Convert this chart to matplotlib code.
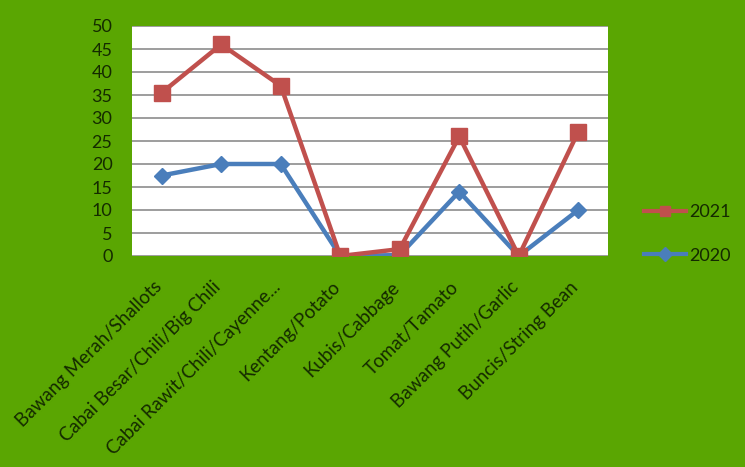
import matplotlib.pyplot as plt
from matplotlib.transforms import ScaledTranslation

categories = ["Bawang Merah/Shallots", "Cabai Besar/Chili/Big Chili", "Cabai Rawit/Chili/Cayenne...",
              "Kentang/Potato", "Kubis/Cabbage", "Tomat/Tamato", "Bawang Putih/Garlic", "Buncis/String Bean"]
y2021 = [35.5, 46, 37, 0, 1.5, 26, 0, 27]
y2020 = [17.5, 20, 20, 0, 0.2, 14, 0, 10]
yticks = [0, 5, 10, 15, 20, 25, 30, 35, 40, 45, 50]

green = "#5aa602"
txt = "#142a00"
plt.rcParams['font.family'] = ['Lato', 'DejaVu Sans']

fig = plt.figure(figsize=(7.45, 4.67), dpi=100, facecolor=green)
ax = fig.add_axes([132/745, 1-256/467, 476/745, 230/467])
ax.set_facecolor("white")

x = range(len(categories))
l1, = ax.plot(x, y2021, color="#c0504d", lw=3.2, marker="s", markersize=11, label="2021", zorder=4)
l2, = ax.plot(x, y2020, color="#4a7ebb", lw=3.2, marker="D", markersize=8, label="2020", zorder=3)

ax.set_xlim(-0.5, len(categories) - 0.5)
ax.set_ylim(0, 50)
ax.set_yticks(yticks)
ax.yaxis.grid(True, color="#8c8c8c", lw=1.2)
ax.set_axisbelow(True)
for s in ax.spines.values():
    s.set_visible(False)
ax.tick_params(length=0, colors=txt, labelsize=13)
ax.tick_params(axis='y', pad=14)
ax.tick_params(axis='x', pad=16)
ax.set_xticks(list(x))
ax.set_xticklabels(categories, rotation=45, ha="right", va="top", rotation_mode="anchor", fontsize=13.5)
shift = ScaledTranslation(-9/100, 0, fig.dpi_scale_trans)
for lbl in ax.get_xticklabels():
    lbl.set_transform(lbl.get_transform() + shift)

leg = fig.legend(handles=[l1, l2], loc="center left", bbox_to_anchor=(628/745, 1-234/467),
                 frameon=False, labelspacing=1.5, handlelength=2.3, handletextpad=0.2,
                 fontsize=13, labelcolor=txt)
for h in leg.legend_handles:
    h.set_markersize(7)
    h.set_linewidth(3)

fig.savefig("out.png", dpi=100, facecolor=green)
